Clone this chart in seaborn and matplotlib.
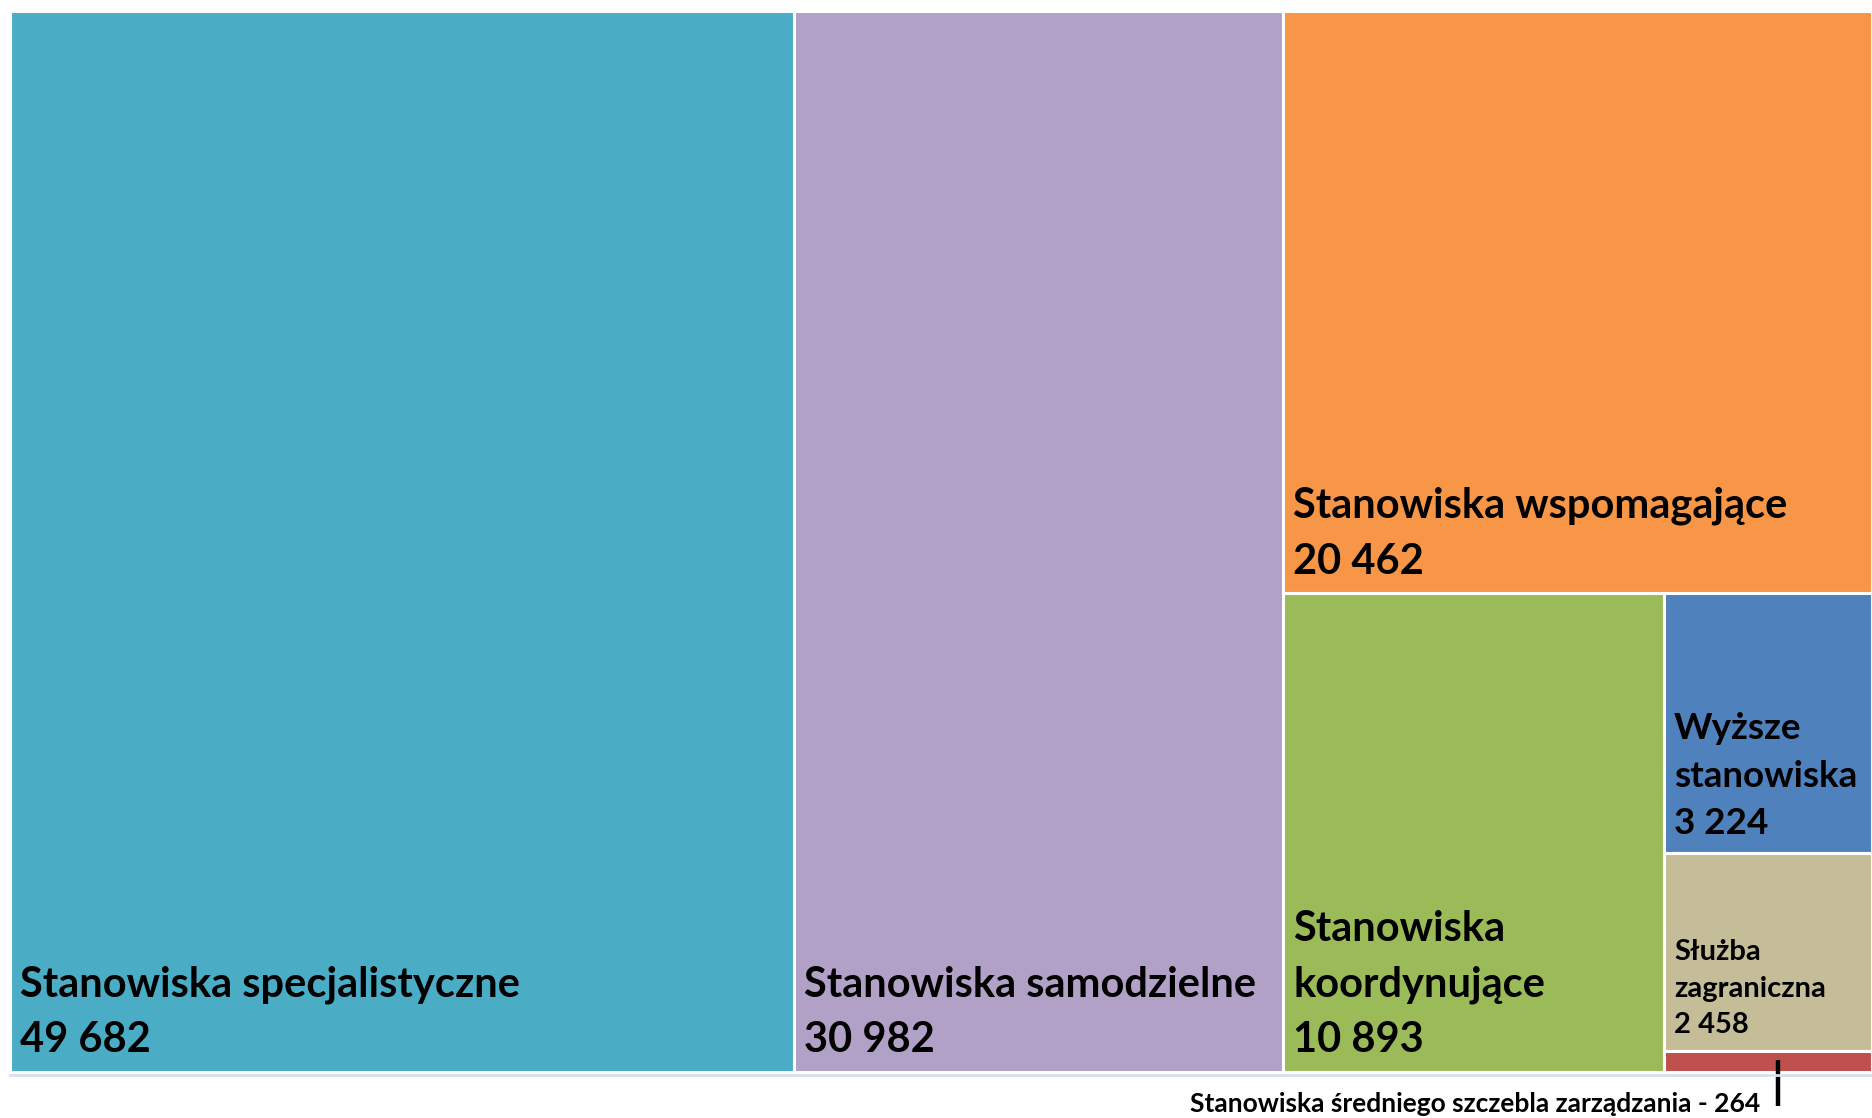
import matplotlib.pyplot as plt
import seaborn as sns

# dane: liczba stanowisk w korpusie służby cywilnej
labels = [
    "Stanowiska specjalistyczne",
    "Stanowiska samodzielne",
    "Stanowiska wspomagające",
    "Stanowiska\nkoordynujące",
    "Wyższe\nstanowiska",
    "Służba\nzagraniczna",
    "Stanowiska średniego szczebla zarządzania",
]
values = [49682, 30982, 20462, 10893, 3224, 2458, 264]
colors = ["#4BACC6", "#B2A1C7", "#F79646", "#9BBB59", "#4F81BD", "#C4BD97", "#C0504D"]
font_sizes = [30, 30, 30, 30, 26.5, 21]
line_spacings = [1.56, 1.56, 1.56, 1.56, 1.54, 1.51]


def fmt(v):
    return f"{v:,}".replace(",", " ")


def slice_layout(vals, x, y, w, h):
    # kazdy element odcina pas w poprzek dluzszego boku pozostalego obszaru
    rects = []
    rest = float(sum(vals))
    for v in vals[:-1]:
        frac = v / rest
        if w >= h:
            rects.append((x, y, w * frac, h))
            x += w * frac
            w -= w * frac
        else:
            rects.append((x, y, w, h * frac))
            y += h * frac
            h -= h * frac
        rest -= v
    rects.append((x, y, w, h))
    return rects


sns.set_theme(style="white")
plt.rcParams["font.family"] = ["Lato", "DejaVu Sans"]

FIG_W, FIG_H = 1872, 1118
fig = plt.figure(figsize=(FIG_W / 100, FIG_H / 100), dpi=100)
W, H = 1862, 1061
ax = fig.add_axes([10 / FIG_W, (FIG_H - 1072) / FIG_H, W / FIG_W, H / FIG_H])

rects = slice_layout(values, 0, 0, W, H)
for (x, y, w, h), c in zip(rects, colors):
    ax.bar(x, h, width=w, bottom=y, align="edge", color=c,
           edgecolor="white", linewidth=2.2)

ax.set_xlim(0, W)
ax.set_ylim(H, 0)
ax.set_xticks([])
ax.set_yticks([])
for side in ["top", "left", "right"]:
    ax.spines[side].set_visible(False)
ax.spines["bottom"].set_color("#D6E0F0")
ax.spines["bottom"].set_linewidth(2)
ax.spines["bottom"].set_position(("outward", 2.5))

# etykiety w lewym dolnym rogu prostokatow
for (x, y, w, h), lab, v, fs, ls in zip(rects[:-1], labels[:-1], values[:-1],
                                        font_sizes, line_spacings):
    ax.text(x + 10, y + h - 12.5, f"{lab}\n{fmt(v)}", ha="left", va="bottom",
            fontsize=fs, fontweight="bold", color="black", linespacing=ls)

# opis najmniejszego pola pod wykresem
rx, ry, rw, rh = rects[-1]
lx = rx + rw / 2 + 10
ax.plot([lx, lx], [ry + 9, H + 34], color="black", lw=3.2, clip_on=False,
        solid_capstyle="butt")
ax.text(lx - 18, H + 32, f"{labels[-1]} - {fmt(values[-1])}", ha="right",
        va="center", fontsize=19, fontweight="bold", color="black",
        clip_on=False)

fig.savefig("out.png", dpi=100)
